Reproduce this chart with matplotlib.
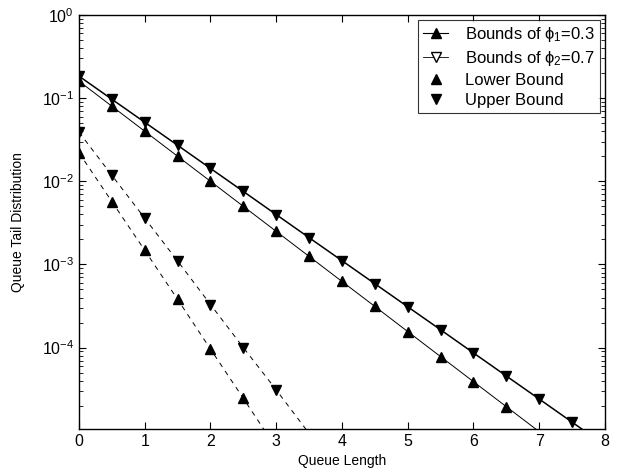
import matplotlib
matplotlib.use("Agg")
import matplotlib.pyplot as plt
import numpy as np
from matplotlib.lines import Line2D

plt.rcParams['font.family'] = ['Liberation Sans', 'DejaVu Sans']
plt.rcParams['mathtext.fontset'] = 'custom'
plt.rcParams['mathtext.rm'] = 'Liberation Sans'
plt.rcParams['mathtext.it'] = 'Liberation Sans:italic'

# Data
x_solid = [0, 0.5, 1, 1.5, 2, 2.5, 3, 3.5, 4, 4.5, 5, 5.5, 6, 6.5, 7, 7.5, 8]
lower_solid = [0.16, 0.08, 0.04, 0.02, 0.01, 0.005, 0.0025, 0.00125, 6.25e-4,
               3.13e-4, 1.56e-4, 7.8e-5, 3.9e-5, 1.95e-5, 9.77e-6, 4.9e-6, 2.4e-6]
upper_solid = [0.184, 0.097, 0.0513, 0.0271, 0.0143, 0.00755, 0.00398, 0.0021,
               0.00111, 5.87e-4, 3.1e-4, 1.64e-4, 8.64e-5, 4.56e-5, 2.41e-5,
               1.27e-5, 6.7e-6]
x_dash = [0, 0.5, 1, 1.5, 2, 2.5, 3, 3.5]
lower_dash = [0.022, 0.0057, 0.00148, 3.8e-4, 9.6e-5, 2.45e-5, 6.2e-6, 1.6e-6]
upper_dash = [0.039, 0.0118, 0.0036, 0.0011, 3.3e-4, 1.0e-4, 3.1e-5, 9.3e-6]

ymin, ymax = 1.05e-5, 1.0
legend_labels = [r'Bounds of $\mathrm{ϕ}_{1}$=0.3', r'Bounds of $\mathrm{ϕ}_{2}$=0.7',
                 'Lower Bound', 'Upper Bound']

fig = plt.figure(figsize=(6.23, 4.76), dpi=100)
ax = fig.add_axes([0.1268, 0.0987, 0.971 - 0.1268, 0.9685 - 0.0987])

ms = 7
ax.plot(x_solid, lower_solid, color='black', linewidth=0.7, marker='^',
        markersize=ms, markevery=list(np.asarray(lower_solid) >= ymin))
ax.plot(x_solid, upper_solid, color='black', linewidth=1.1, marker='v',
        markersize=ms, markevery=list(np.asarray(upper_solid) >= ymin))
ax.plot(x_dash, lower_dash, color='black', linewidth=0.7, linestyle=(0, (5, 5)),
        marker='^', markersize=ms, markevery=list(np.asarray(lower_dash) >= ymin))
ax.plot(x_dash, upper_dash, color='black', linewidth=0.7, linestyle=(0, (5, 5)),
        marker='v', markersize=ms, markevery=list(np.asarray(upper_dash) >= ymin))

ax.set_yscale('log')
ax.set_xlim(0, 8)
ax.set_ylim(ymin, ymax)
ax.set_xticks(range(0, 9))
ax.tick_params(which='both', direction='in', top=True, right=True, labelsize=11.5)
ax.tick_params(which='major', length=5, width=0.8)
ax.tick_params(which='minor', length=3, width=0.6)
ax.set_xlabel('Queue Length', fontsize=10, labelpad=4)
ax.set_ylabel('Queue Tail Distribution', fontsize=10, labelpad=12)
for s in ax.spines.values():
    s.set_linewidth(1.0)

handles = [
    Line2D([], [], color='black', linewidth=0.8, marker='^', markersize=ms,
           markerfacecolor='black'),
    Line2D([], [], color='black', linewidth=0.6, marker='v', markersize=ms,
           markerfacecolor='white'),
    Line2D([], [], color='black', linestyle='none', marker='^', markersize=ms),
    Line2D([], [], color='black', linestyle='none', marker='v', markersize=ms),
]
leg = ax.legend(handles, legend_labels, loc='upper right', fontsize=12,
                frameon=True, fancybox=False, edgecolor='black',
                borderpad=0.3, labelspacing=0.3, handlelength=1.5,
                handletextpad=1.0, borderaxespad=0.3)
leg.get_frame().set_linewidth(0.8)

fig.savefig('out.png', dpi=100)
